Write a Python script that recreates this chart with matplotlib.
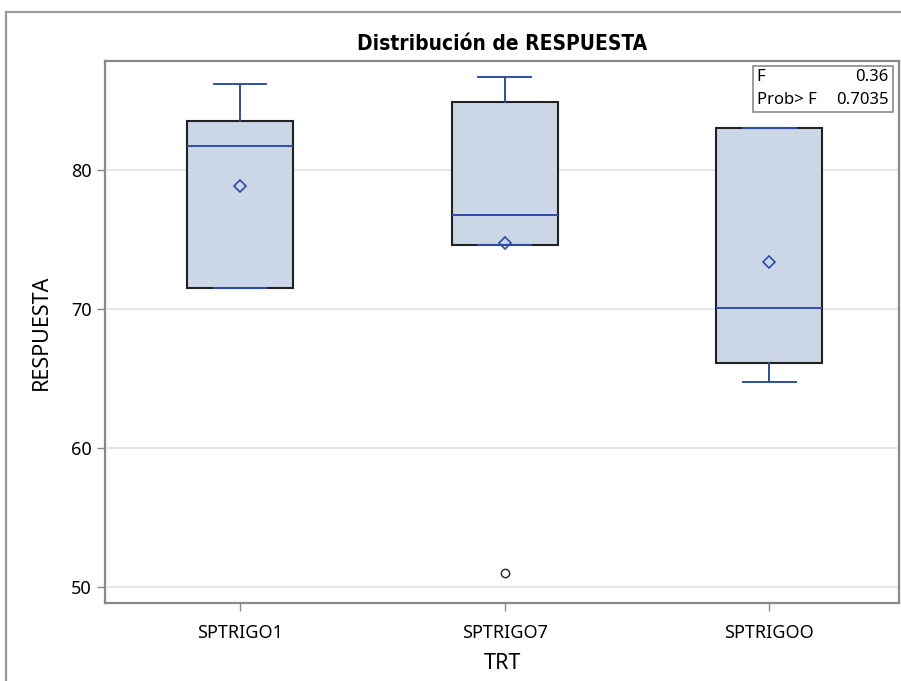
import matplotlib
matplotlib.use("Agg")
import matplotlib.pyplot as plt
from matplotlib.lines import Line2D

plt.rcParams['font.family'] = ['Noto Sans', 'DejaVu Sans']

# ---- data ----
groups = ['SPTRIGO1', 'SPTRIGO7', 'SPTRIGOO']
q1 = [71.5, 74.6, 66.1]
med = [81.7, 76.8, 70.1]
q3 = [83.5, 84.9, 83.0]
whislo = [71.5, 74.6, 64.75]
whishi = [86.2, 86.7, 83.0]
means = [78.85, 74.75, 73.4]
outliers = [[], [51.0], []]

f_value = '0.36'
p_value = '0.7035'

BLUE = '#2b4ea8'
FILL = '#cbd6e6'

stats = []
for i, name in enumerate(groups):
    stats.append({
        'label': name, 'q1': q1[i], 'med': med[i], 'q3': q3[i],
        'whislo': whislo[i], 'whishi': whishi[i],
        'mean': means[i], 'fliers': outliers[i],
    })

fig = plt.figure(figsize=(9.01, 6.81), dpi=100)
ax = fig.add_axes([105 / 901, 1 - 603 / 681, (899 - 105) / 901, (603 - 61) / 681])

ax.bxp(
    stats, positions=[1, 2, 3], widths=0.4, patch_artist=True,
    showmeans=True, showfliers=True,
    boxprops=dict(facecolor=FILL, edgecolor='#222222', linewidth=1.5),
    medianprops=dict(color=BLUE, linewidth=1.4),
    whiskerprops=dict(color=BLUE, linewidth=1.4),
    capprops=dict(color=BLUE, linewidth=1.4),
    capwidths=0.2,
    meanprops=dict(marker='D', markersize=6.5, markerfacecolor='none',
                   markeredgecolor=BLUE, markeredgewidth=1.2),
    flierprops=dict(marker='o', markersize=6, markerfacecolor='none',
                    markeredgecolor='#222222', markeredgewidth=1.0),
    zorder=3,
)

ax.set_xlim(0.49, 3.49)
ax.set_ylim(48.85, 87.85)
ax.set_yticks([50, 60, 70, 80])
ax.yaxis.grid(True, color='#e3e3e3', linewidth=1.2, zorder=0)
ax.set_axisbelow(True)

for side in ['left', 'bottom', 'right', 'top']:
    ax.spines[side].set_color('#8a8a8a')
    ax.spines[side].set_linewidth(1.6)

ax.tick_params(axis='both', colors='#8a8a8a', labelcolor='black',
               labelsize=13, length=6, width=1)
ax.tick_params(axis='x', pad=9)

ax.set_xlabel('TRT', fontsize=15.5, labelpad=8)
ax.set_ylabel('RESPUESTA', fontsize=15.5, labelpad=14)
ax.set_title('Distribución de RESPUESTA', fontsize=15, fontweight='bold',
             pad=8, family=['DejaVu Sans'], stretch='condensed')

# stats inset box
ax.add_patch(plt.Rectangle((0.816, 0.906), 0.176, 0.085, transform=ax.transAxes,
                           facecolor='white', edgecolor='#8a8a8a', linewidth=1.2, zorder=4))
ax.text(0.821, 0.971, 'F', transform=ax.transAxes, fontsize=12, va='center', ha='left', zorder=5)
ax.text(0.987, 0.971, f_value, transform=ax.transAxes, fontsize=12, va='center', ha='right', zorder=5)
ax.text(0.821, 0.928, 'Prob> F', transform=ax.transAxes, fontsize=12, va='center', ha='left', zorder=5)
ax.text(0.987, 0.928, p_value, transform=ax.transAxes, fontsize=12, va='center', ha='right', zorder=5)

# outer page frame (left and top)
fig.add_artist(Line2D([6 / 901, 6 / 901], [0, 1 - 12 / 681], color='#9a9a9a', linewidth=1.6))
fig.add_artist(Line2D([6 / 901, 1], [1 - 12 / 681, 1 - 12 / 681], color='#9a9a9a', linewidth=1.6))

fig.savefig('out.png', dpi=100)
